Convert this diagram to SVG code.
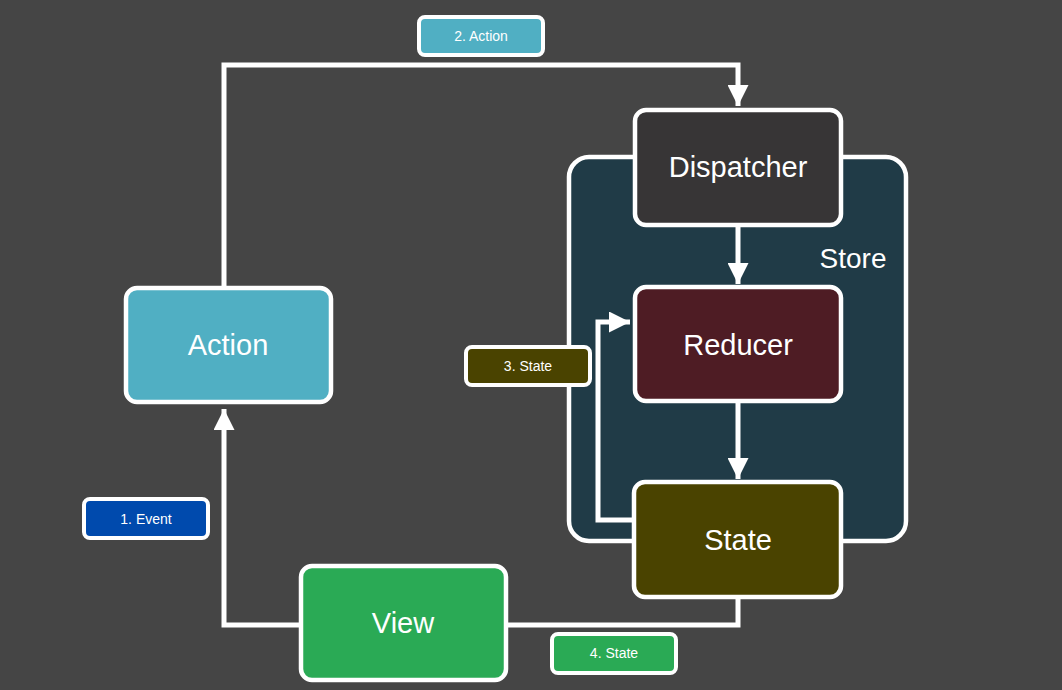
<svg xmlns="http://www.w3.org/2000/svg" width="1062" height="690" viewBox="0 0 1062 690">
<defs>
<style>
.node rect{stroke:#fff;stroke-width:4.5}
.lbl rect{stroke:#fff;stroke-width:4}
.nt{font-family:"Liberation Sans",Arial,sans-serif;font-size:29px;fill:#fff;text-anchor:middle;dominant-baseline:central}
.lt{font-family:"Liberation Sans",Arial,sans-serif;font-size:14px;fill:#fff;text-anchor:middle;dominant-baseline:central}
.conn{fill:none;stroke:#fff;stroke-width:5;stroke-linejoin:miter}
</style>
<marker id="ah" viewBox="0 0 10 10" refX="10" refY="5" markerWidth="4.2" markerHeight="4.2" markerUnits="strokeWidth" orient="auto">
<path d="M0,0 L10,5 L0,10 Z" fill="#fff"/>
</marker>
</defs>
<rect x="0" y="0" width="1062" height="690" fill="#454545"/>
<g id="store">
<rect x="569" y="157" width="337" height="384" rx="20" fill="#203b47" stroke="#fff" stroke-width="4.5"/>
<text x="853" y="258" class="nt" style="font-size:28px">Store</text>
</g>
<g id="connectors">
<path class="conn" d="M224,286 V65 H738 V106" marker-end="url(#ah)"/>
<path class="conn" d="M299,625 H224 V409" marker-end="url(#ah)"/>
<path class="conn" d="M738,227 V284" marker-end="url(#ah)"/>
<path class="conn" d="M738,403 V479" marker-end="url(#ah)"/>
<path class="conn" d="M632,520 H598 V322 H630" marker-end="url(#ah)"/>
<path class="conn" d="M738,599 V625 H508"/>
</g>
<g id="action" class="node">
<rect x="126" y="288" width="205" height="114" rx="11" fill="#50afc3"/>
<text x="228" y="345" class="nt">Action</text>
</g>
<g id="dispatcher" class="node">
<rect x="635" y="110" width="206" height="115" rx="11" fill="#373536"/>
<text x="738" y="167" class="nt">Dispatcher</text>
</g>
<g id="reducer" class="node">
<rect x="635" y="287" width="206" height="114" rx="11" fill="#4e1c24"/>
<text x="738" y="345" class="nt">Reducer</text>
</g>
<g id="state" class="node">
<rect x="634" y="482" width="207" height="115" rx="11" fill="#4a4300"/>
<text x="738" y="540" class="nt">State</text>
</g>
<g id="view" class="node">
<rect x="301" y="566" width="205" height="114" rx="11" fill="#2aaa55"/>
<text x="403" y="623" class="nt">View</text>
</g>
<g id="label-action" class="lbl">
<rect x="419" y="17" width="124" height="38" rx="6" fill="#50afc3"/>
<text x="481" y="36" class="lt">2. Action</text>
</g>
<g id="label-state3" class="lbl">
<rect x="466" y="347" width="124" height="38" rx="6" fill="#4a4300"/>
<text x="528" y="366" class="lt">3. State</text>
</g>
<g id="label-event" class="lbl">
<rect x="84" y="499" width="124" height="39" rx="6" fill="#004aad"/>
<text x="146" y="519" class="lt">1. Event</text>
</g>
<g id="label-state4" class="lbl">
<rect x="552" y="634" width="124" height="39" rx="6" fill="#2aaa55"/>
<text x="614" y="653" class="lt">4. State</text>
</g>
</svg>
